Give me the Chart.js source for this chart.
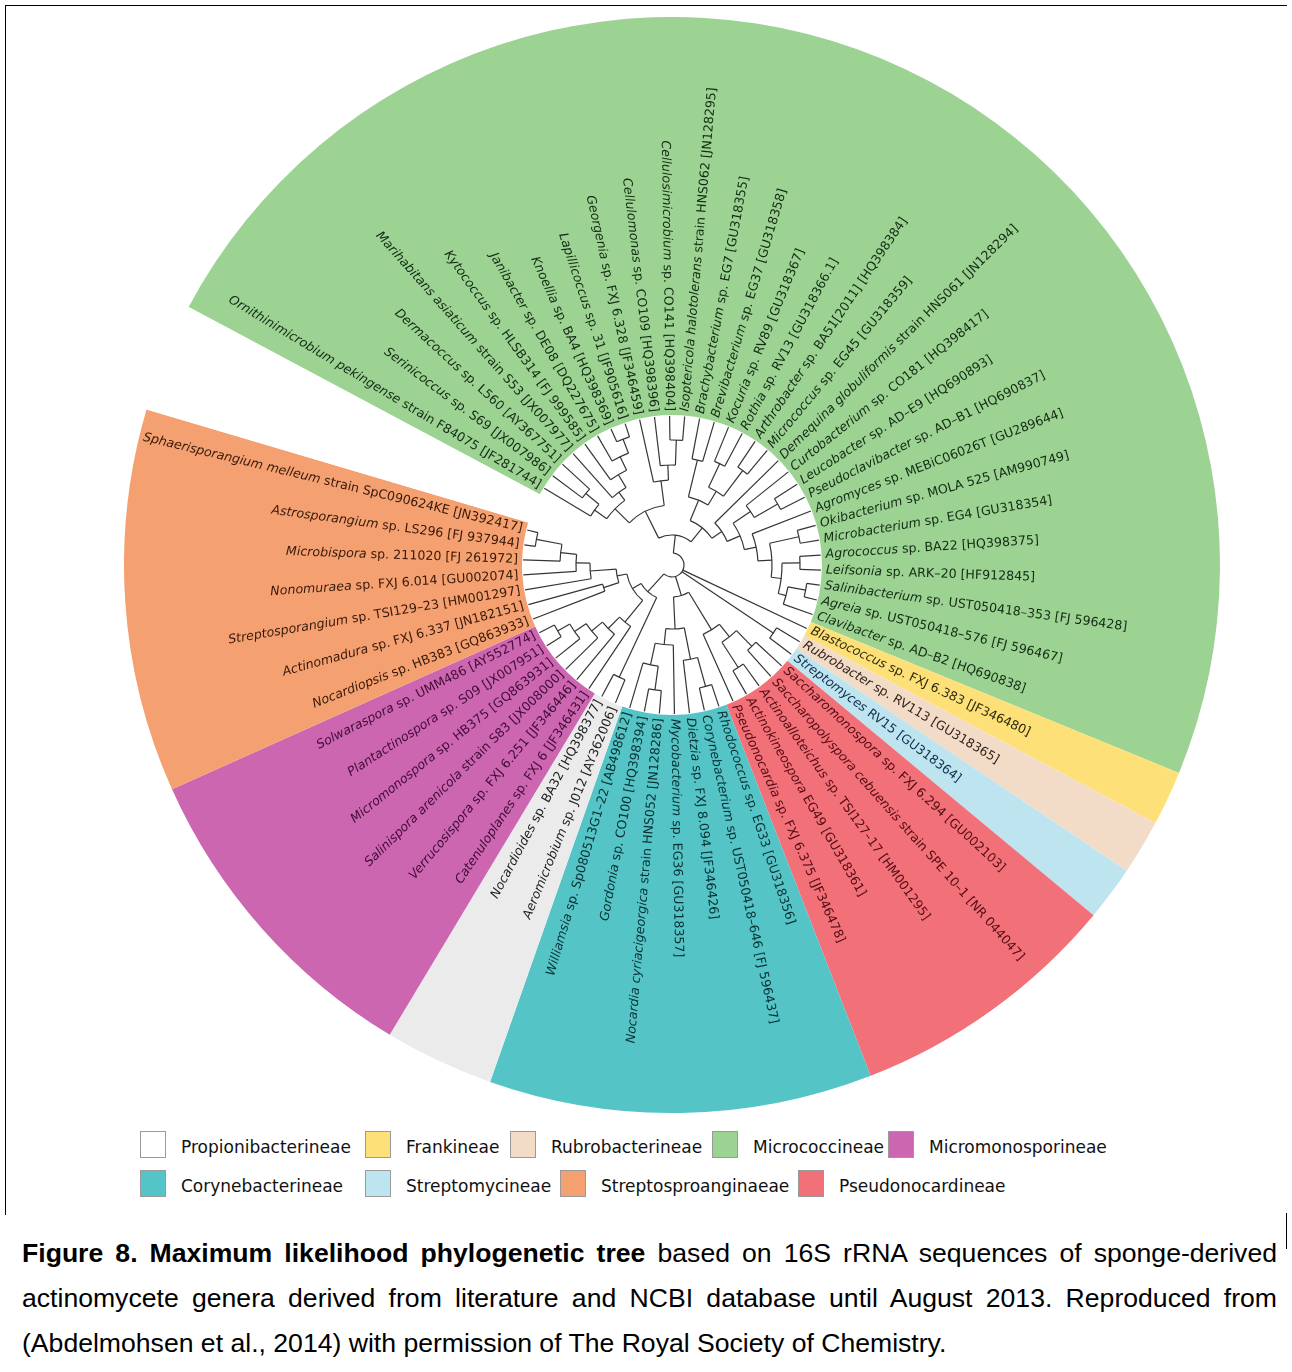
<!DOCTYPE html>
<html>
<head>
<meta charset="utf-8">
<script src="https://cdn.jsdelivr.net/npm/chart.js@4.4.1/dist/chart.umd.min.js"></script>
<style>
  html, body { margin: 0; padding: 0; background: #fff; }
  body { width: 1292px; height: 1372px; position: relative; overflow: hidden; }
  #wrap { position: absolute; left: 124px; top: 17px; width: 1096px; height: 1096px; }
  .frame { position: absolute; background: #000; }
  .lg-box { position: absolute; width: 26px; height: 27px; box-sizing: border-box; border: 1px solid #9a9a9a; }
  .lg-txt { position: absolute; font-family: "DejaVu Sans", sans-serif; font-size: 17px; color: #111; white-space: nowrap; line-height: 20px; }
  .cap { position: absolute; left: 22px; width: 1255px; font-family: "Liberation Sans", Arial, sans-serif; font-size: 26.6px; color: #000; white-space: nowrap; line-height: 30px; }
  .cap.j { text-align: justify; text-align-last: justify; }
</style>
</head>
<body>
<div class="frame" style="left:5px;top:5px;width:1282px;height:1px;"></div>
<div class="frame" style="left:5px;top:5px;width:1px;height:1210px;"></div>
<div class="frame" style="left:1286px;top:1213px;width:1px;height:36px;"></div>
<div id="wrap"><canvas id="tree"></canvas></div>
<div id="legend"></div>
<div class="cap j" style="top:1238px;"><b>Figure 8. Maximum likelihood phylogenetic tree</b> based on 16S rRNA sequences of sponge-derived</div>
<div class="cap j" style="top:1283px;">actinomycete genera derived from literature and NCBI database until August 2013. Reproduced from</div>
<div class="cap" style="top:1328px;">(Abdelmohsen et al., 2014) with permission of The Royal Society of Chemistry.</div>

<script>
// Suborders used for the coloured clade backgrounds and the legend
const groupNames = ['Propionibacterineae', 'Frankineae', 'Rubrobacterineae', 'Micrococcineae',
  'Micromonosporineae', 'Corynebacterineae', 'Streptomycineae', 'Streptosproanginaeae', 'Pseudonocardineae'];
const groupFill = ['#ebebeb', '#fde078', '#f2dcc8', '#9cd393', '#cc66b0', '#54c4c6', '#bee4f0', '#f5a070', '#f27078'];
const legendFill = ['#ffffff', '#fde078', '#f2dcc8', '#9cd393', '#cc66b0', '#54c4c6', '#bee4f0', '#f5a070', '#f27078'];
const groupInk = ['#1e1e1e', '#2e2a0e', '#33241c', '#142c14', '#420c38', '#0a3032', '#123050', '#361a0a', '#520c14'];

// Clade runs around the circle (clockwise), as number of leaves per run
const runGroup = [3, 1, 2, 6, 8, 5, 0, 4, 7];
const runLeaves = [30, 1, 1, 1, 5, 7, 2, 6, 7];
const gapSlots = 2;

// Leaf names, clockwise: italic part | roman part
const leafNames = [
  'Ornithinimicrobium pekingense|strain F84075 [JF281744]',
  'Serinicoccus|sp. S69 [JX007986]',
  'Dermacoccus|sp. L560 [AY367751]',
  'Marihabitans asiaticum|strain S53 [JX007977]',
  'Kytococcus|sp. HLSB314 [FJ 999585]',
  'Janibacter|sp. DE08 [DQ227675]',
  'Knoellia|sp. BA4 [HQ398369]',
  'Lapillicoccus|sp. 31 [JF905616]',
  'Georgenia|sp. FXJ 6.328 [JF346459]',
  'Cellulomonas|sp. CO109 [HQ398396]',
  'Cellulosimicrobium|sp. CO141 [HQ398404]',
  'Isoptericola halotolerans|strain HNS062 [JN128295]',
  'Brachybacterium|sp. EG7 [GU318355]',
  'Brevibacterium|sp. EG37 [GU318358]',
  'Kocuria|sp. RV89 [GU318367]',
  'Rothia|sp. RV13 [GU318366.1]',
  'Arthrobacter|sp. BA51[2011] [HQ398384]',
  'Micrococcus|sp. EG45 [GU318359]',
  'Demequina globuliformis|strain HNS061 [JN128294]',
  'Curtobacterium|sp. CO181 [HQ398417]',
  'Leucobacter|sp. AD\u2013E9 [HQ690893]',
  'Pseudoclavibacter|sp. AD\u2013B1 [HQ690837]',
  'Agromyces|sp. MEBiC06026T [GU289644]',
  'Okibacterium|sp. MOLA 525 [AM990749]',
  'Microbacterium|sp. EG4 [GU318354]',
  'Agrococcus|sp. BA22 [HQ398375]',
  'Leifsonia|sp. ARK\u201320 [HF912845]',
  'Salinibacterium|sp. UST050418\u2013353 [FJ 596428]',
  'Agreia|sp. UST050418\u2013576 [FJ 596467]',
  'Clavibacter|sp. AD\u2013B2 [HQ690838]',
  'Blastococcus|sp. FXJ 6.383 [JF346480]',
  'Rubrobacter|sp. RV113 [GU318365]',
  'Streptomyces|RV15 [GU318364]',
  'Saccharomonospora|sp. FXJ 6.294 [GU002103]',
  'Saccharopolyspora cebuensis|strain SPE 10\u20131 [NR 044047]',
  'Actinoalloteichus|sp. TSI127\u201317 [HM001295]',
  'Actinokineospora|EG49 [GU318361]',
  'Pseudonocardia|sp. FXJ 6.375 [JF346478]',
  'Rhodococcus|sp. EG33 [GU318356]',
  'Corynebacterium|sp. UST050418\u2013646 [FJ 596437]',
  'Dietzia|sp. FXJ 8.094 [JF346426]',
  'Mycobacterium|sp. EG36 [GU318357]',
  'Nocardia cyriacigeorgica|strain HNS052 [JN128286]',
  'Gordonia|sp. CO100 [HQ398394]',
  'Williamsia|sp. Sp080513G1\u201322 [AB498612]',
  'Aeromicrobium|sp. J012 [AY362006]',
  'Nocardioides|sp. BA32 [HQ398377]',
  'Catenuloplanes|sp. FXJ 6 [JF346431]',
  'Verrucosispora|sp. FXJ 6.251 [JF346446]',
  'Salinispora arenicola|strain S83 [JX008000]',
  'Micromonospora|sp. HB375 [GQ863931]',
  'Plantactinospora|sp. S09 [JX007951]',
  'Solwaraspora|sp. UMM486 [AY552774]',
  'Nocardiopsis|sp. HB383 [GQ863933]',
  'Actinomadura|sp. FXJ 6.337 [JN182151]',
  'Streptosporangium|sp. TSI129\u201323 [HM001297]',
  'Nonomuraea|sp. FXJ 6.014 [GU002074]',
  'Microbispora|sp. 211020 [FJ 261972]',
  'Astrosporangium|sp. LS296 [FJ 937944]',
  'Sphaerisporangium melleum|strain SpC090624KE [JN392417]'
];

// Tree topology: [node radius, ...children]; a number is a leaf index
const cladeMicroLeft = [60,
  [80, [95, 0, [112, 1, 2]], [90, 3, [105, 4, [120, 5, [135, 6, 7]]]]],
  [85, 8, [100, 9, [125, 10, 11]]]];
const cladeMicroRight = [48,
  [70, [108, 12, 13], [86, [112, 14, 15], [118, 16, 17]]],
  [60, 18, [74, [95, 19, [122, 20, 21]],
    [86, 22, [100, [130, 23, 24], [110, [128, 25, 26], [118, [136, 27, 28], 29]]]]]]];
const cladeMicro = [30, cladeMicroLeft, cladeMicroRight];
const cladeRubroStrep = [122, 31, 32];
const cladePseudo = [76, [92, [114, 33, 34], [122, 35, 36]], 37];
const cladeCoryne = [64, [96, [126, 38, 39], 40], [80, 41, [102, [126, 42, 43], 44]]];
const cladeLower = [32, cladePseudo, cladeCoryne];
const cladePropioni = [124, 45, 46];
const cladeMicromono = [74, 47, [90, 48, [104, 49, [118, 50, [132, 51, 52]]]]];
const cladeStreptosp = [56, [72, 53, 54], [82, 55, [96, 56, [112, 57, [138, 58, 59]]]]];
const cladeLeft = [36, cladePropioni, [46, cladeMicromono, cladeStreptosp]];
const treeRoot = [12, cladeMicro, 30, cladeRubroStrep, cladeLower, cladeLeft];

const sliceData = runLeaves.concat([gapSlots]);
const sliceColors = runGroup.map(g => groupFill[g]).concat(['#ffffff']);
const sliceLabels = runGroup.map(g => groupNames[g]).concat(['']);
const leafGroup = [];
runGroup.forEach((g, i) => { for (let k = 0; k < runLeaves[i]; k++) leafGroup.push(g); });

const treePlugin = {
  id: 'circularTree',
  afterDatasetsDraw(chart) {
    const ctx = chart.ctx;
    const meta = chart.getDatasetMeta(0);
    const first = meta.data[0];
    const cx = first.x, cy = first.y;
    const inner = first.innerRadius;
    const s = inner / 150;
    const slot = (first.endAngle - first.startAngle) / runLeaves[0];
    const a0 = first.startAngle;
    const leafAngle = k => a0 + (k + 0.5) * slot;
    const tipR = inner - 1;

    ctx.save();
    ctx.strokeStyle = '#353535';
    ctx.lineWidth = 1.2;
    ctx.lineCap = 'butt';
    const walk = node => {
      if (typeof node === 'number') return { a: leafAngle(node), r: tipR };
      const r = node[0] * s;
      const kids = node.slice(1).map(walk);
      const aStart = kids[0].a, aEnd = kids[kids.length - 1].a;
      ctx.beginPath();
      ctx.arc(cx, cy, r, aStart, aEnd);
      ctx.stroke();
      kids.forEach(k => {
        ctx.beginPath();
        ctx.moveTo(cx + r * Math.cos(k.a), cy + r * Math.sin(k.a));
        ctx.lineTo(cx + k.r * Math.cos(k.a), cy + k.r * Math.sin(k.a));
        ctx.stroke();
      });
      return { a: (aStart + aEnd) / 2, r };
    };
    walk(treeRoot);
    ctx.restore();

    // leaf labels
    const size = 12.6;
    const fItal = 'italic ' + size + 'px "DejaVu Sans"';
    const fRom = size + 'px "DejaVu Sans"';
    const labelR = inner + 4 * s;
    leafNames.forEach((name, k) => {
      const [ital, rom] = name.split('|');
      const a = leafAngle(k);
      const right = Math.cos(a) >= 0;
      ctx.save();
      ctx.translate(cx, cy);
      ctx.rotate(right ? a : a + Math.PI);
      ctx.textBaseline = 'middle';
      ctx.textAlign = 'left';
      ctx.fillStyle = groupInk[leafGroup[k]];
      ctx.font = fItal;
      const w1 = ctx.measureText(ital + ' ').width;
      ctx.font = fRom;
      const w2 = ctx.measureText(rom).width;
      const x = right ? labelR : -(labelR + w1 + w2);
      ctx.font = fItal;
      ctx.fillText(ital + ' ', x, 0);
      ctx.font = fRom;
      ctx.fillText(rom, x + w1, 0);
      ctx.restore();
    });
  }
};

new Chart(document.getElementById('tree'), {
  type: 'doughnut',
  data: {
    labels: sliceLabels,
    datasets: [{ data: sliceData, backgroundColor: sliceColors, borderWidth: 0, hoverOffset: 0 }]
  },
  options: {
    responsive: true,
    maintainAspectRatio: false,
    animation: false,
    events: [],
    rotation: 298.1,
    cutout: 150,
    layout: { padding: 0 },
    plugins: { legend: { display: false }, tooltip: { enabled: false } }
  },
  plugins: [treePlugin]
});

// Legend (two rows)
const legendOrder = [0, 1, 2, 3, 4, 5, 6, 7, 8];
const legendX = [140, 365, 510, 712, 888, 140, 365, 560, 798];
const legendY = [1131, 1131, 1131, 1131, 1131, 1170, 1170, 1170, 1170];
const lg = document.getElementById('legend');
legendOrder.forEach((g, i) => {
  const b = document.createElement('div');
  b.className = 'lg-box';
  b.style.left = legendX[i] + 'px';
  b.style.top = legendY[i] + 'px';
  b.style.background = legendFill[g];
  lg.appendChild(b);
  const t = document.createElement('div');
  t.className = 'lg-txt';
  t.style.left = (legendX[i] + 41) + 'px';
  t.style.top = (legendY[i] + 6) + 'px';
  t.textContent = groupNames[g];
  lg.appendChild(t);
});
</script>
</body>
</html>
